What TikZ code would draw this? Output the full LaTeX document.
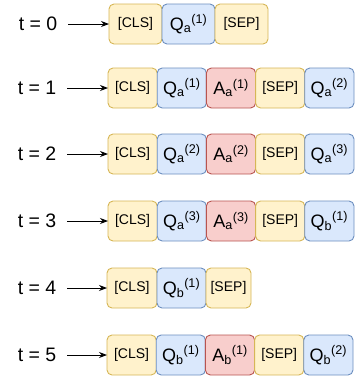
\documentclass[tikz,border=0pt]{standalone}
\usepackage{fontspec}
\setmainfont{Liberation Sans}
\usetikzlibrary{positioning,arrows.meta}

\definecolor{clsfill}{HTML}{FFF2CC}
\definecolor{clsdraw}{HTML}{D6B656}
\definecolor{qfill}{HTML}{DAE8FC}
\definecolor{qdraw}{HTML}{6C8EBF}
\definecolor{afill}{HTML}{F8CECC}
\definecolor{adraw}{HTML}{B85450}

\newcommand{\tq}[2]{Q\textsubscript{#1}\textsuperscript{(#2)}}
\newcommand{\ta}[2]{A\textsubscript{#1}\textsuperscript{(#2)}}

\tikzset{
	tok/.style={rounded corners=5pt, line width=0.9pt, minimum width=49.2pt, minimum height=40pt, inner sep=0pt, outer sep=0pt},
	clsbox/.style={tok, fill=clsfill, draw=clsdraw, font=\fontsize{14}{16}\selectfont},
	qbox/.style={tok, fill=qfill, draw=qdraw, font=\fontsize{18}{20}\selectfont},
	abox/.style={tok, fill=afill, draw=adraw, font=\fontsize{18}{20}\selectfont},
	lbl/.style={font=\fontsize{19.5}{22}\selectfont, inner sep=4pt},
	arr/.style={-{Stealth[length=8pt,width=6pt]}, line width=0.9pt, shorten <=7pt}
}

\begin{document}
\begin{tikzpicture}[x=1pt,y=-1pt]
	\useasboundingbox (0,0) rectangle (356,376);
	% t = 0
	\node[lbl] (t0) at (38,24) {t = 0};
	\node[clsbox, minimum width=53pt, anchor=west] (c0) at (109,24) {[CLS]};
	\node[qbox, minimum width=53pt, right=0pt of c0] (q0) {\tq{a}{1}};
	\node[clsbox, minimum width=53pt, right=0pt of q0] (s0) {[SEP]};
	\draw[arr] (t0) -- (c0);
	% t = 1
	\node[lbl] (t1) at (37,88) {t = 1};
	\node[clsbox, anchor=west] (c1) at (108,88) {[CLS]};
	\node[qbox, right=0pt of c1] (q1) {\tq{a}{1}};
	\node[abox, right=0pt of q1] (a1) {\ta{a}{1}};
	\node[clsbox, right=0pt of a1] (s1) {[SEP]};
	\node[qbox, right=0pt of s1] (n1) {\tq{a}{2}};
	\draw[arr] (t1) -- (c1);
	% t = 2
	\node[lbl] (t2) at (37,154) {t = 2};
	\node[clsbox, anchor=west] (c2) at (108,154) {[CLS]};
	\node[qbox, right=0pt of c2] (q2) {\tq{a}{2}};
	\node[abox, right=0pt of q2] (a2) {\ta{a}{2}};
	\node[clsbox, right=0pt of a2] (s2) {[SEP]};
	\node[qbox, right=0pt of s2] (n2) {\tq{a}{3}};
	\draw[arr] (t2) -- (c2);
	% t = 3
	\node[lbl] (t3) at (37,221) {t = 3};
	\node[clsbox, anchor=west] (c3) at (108,221) {[CLS]};
	\node[qbox, right=0pt of c3] (q3) {\tq{a}{3}};
	\node[abox, right=0pt of q3] (a3) {\ta{a}{3}};
	\node[clsbox, right=0pt of a3] (s3) {[SEP]};
	\node[qbox, right=0pt of s3] (n3) {\tq{b}{1}};
	\draw[arr] (t3) -- (c3);
	% t = 4
	\node[lbl] (t4) at (37,288) {t = 4};
	\node[clsbox, minimum width=50pt, anchor=west] (c4) at (107,288) {[CLS]};
	\node[qbox, minimum width=49pt, right=0pt of c4] (q4) {\tq{b}{1}};
	\node[clsbox, minimum width=45pt, right=0pt of q4] (s4) {[SEP]};
	\draw[arr] (t4) -- (c4);
	% t = 5
	\node[lbl] (t5) at (37,355) {t = 5};
	\node[clsbox, anchor=west] (c5) at (107,355) {[CLS]};
	\node[qbox, right=0pt of c5] (q5) {\tq{b}{1}};
	\node[abox, right=0pt of q5] (a5) {\ta{b}{1}};
	\node[clsbox, right=0pt of a5] (s5) {[SEP]};
	\node[qbox, right=0pt of s5] (n5) {\tq{b}{2}};
	\draw[arr] (t5) -- (c5);
\end{tikzpicture}
\end{document}
